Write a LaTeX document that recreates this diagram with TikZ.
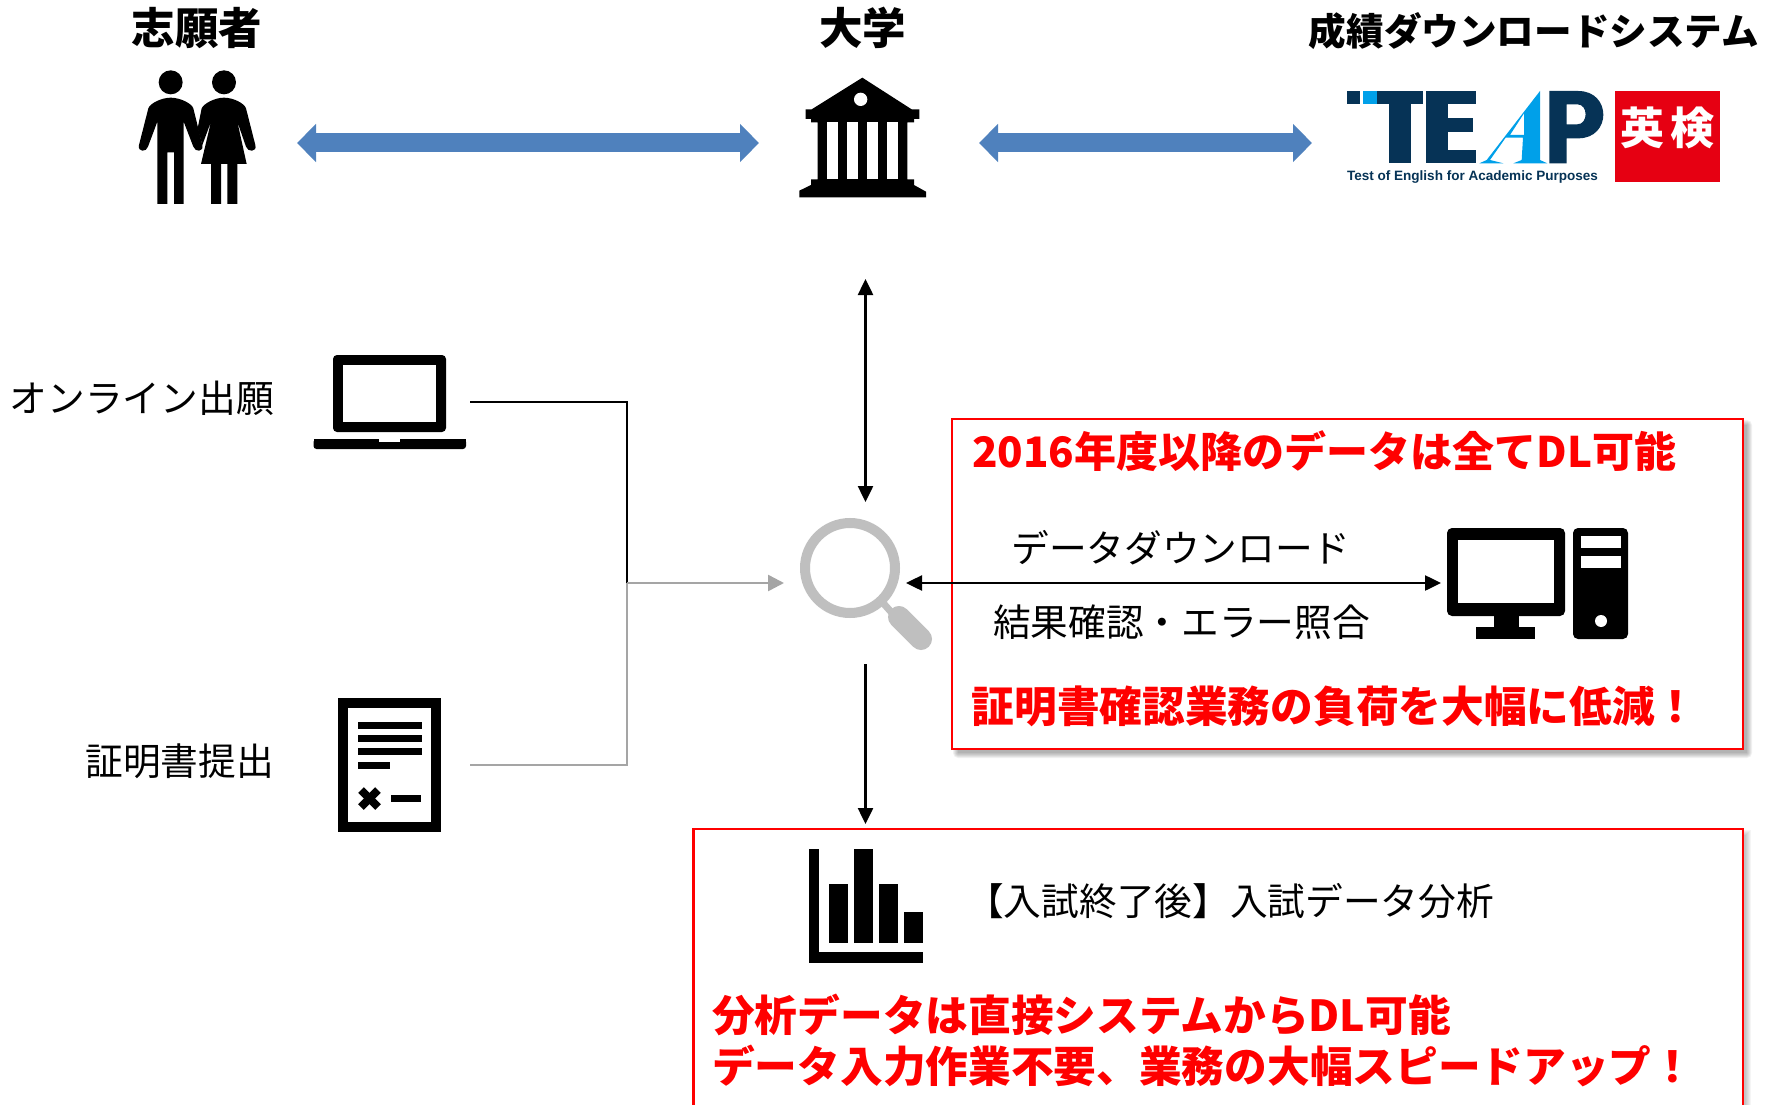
\documentclass[tikz,border=0pt]{standalone}
\usepackage{fontspec}
\usepackage{graphicx}
\usetikzlibrary{arrows.meta}
\setmainfont{Noto Sans CJK JP}
\newfontfamily\latinbold{Liberation Sans}
\definecolor{bluearrow}{HTML}{4F81BD}
\definecolor{navy}{HTML}{063356}
\definecolor{skyb}{HTML}{00A0E9}
\definecolor{eikenred}{HTML}{E60012}
\definecolor{greyicon}{HTML}{BFBFBF}
\definecolor{greyline}{HTML}{A5A5A5}
\definecolor{redtext}{HTML}{FF0000}
\tikzset{
  headtext/.style={inner sep=0pt,font=\fontsize{43.5}{47}\selectfont\bfseries},
  systext/.style={inner sep=0pt,font=\fontsize{37.6}{42}\selectfont\bfseries},
  plaintext/.style={inner sep=0pt,font=\fontsize{37.7}{42}\selectfont},
  redlabel/.style={inner sep=0pt,text=redtext,font=\fontsize{42.7}{46}\selectfont\bfseries},
  redfirst/.style={inner sep=0pt,text=redtext,font=\fontsize{42}{46}\selectfont\bfseries},
  bigarrow/.style={bluearrow,line width=19pt,{Triangle[length=19pt,width=37pt]}-{Triangle[length=19pt,width=37pt]}},
  blackarrow/.style={black,line width=2.5pt,-{Triangle[length=16pt,width=15pt]}},
  blackdouble/.style={black,line width=2.5pt,{Triangle[length=16pt,width=15pt]}-{Triangle[length=16pt,width=15pt]}},
  greyarrow/.style={greyline,line width=2.5pt,-{Triangle[length=16pt,width=16pt]}},
  redbox/.style={draw=redtext,line width=2.5pt,fill=white},
  zoomed/.style={x=1pt,y=-1pt,scale=1/3},
}
\begin{document}
\begin{tikzpicture}[x=1pt,y=-1pt]
\useasboundingbox (0,0) rectangle (1773,1105);
\clip (0,0) rectangle (1773,1105);
\fill[white] (0,0) rectangle (1773,1105);

% named ends
\coordinate (applicantR) at (297,143);
\coordinate (univL) at (759,143);
\coordinate (univR) at (979,143);
\coordinate (systemL) at (1312,143);
\coordinate (univS) at (865.5,279);
\coordinate (searchN) at (865.5,502);
\coordinate (searchS) at (865.5,664);
\coordinate (resultN) at (865.5,824);
\coordinate (searchE) at (906,583);
\coordinate (pcW) at (1441,583);
\coordinate (searchW) at (784,583);
\coordinate (laptopE) at (470,402);
\coordinate (docE) at (470,765);
\coordinate (joinA) at (627,402);
\coordinate (joinB) at (627,765);
\coordinate (joinC) at (627,583);

% shadows
\foreach \i in {0,...,5}{
  \fill[black,opacity=.055,rounded corners=\i pt] (958-\i,425-\i) rectangle (1747+\i,753+\i);
  \fill[black,opacity=.04] (1740,835-\i) rectangle (1746+\i,1105);
}
% red boxes
\draw[redbox] (952,419) rectangle (1743,749);
\draw[redbox] (693.5,829) rectangle (1743,1125);

% titles
\node[headtext] (tApplicant) at (197,28) {志願者};
\node[headtext] (tUniv) at (862.5,28) {大学};
\node[systext] (tSystem) at (1534,31) {成績ダウンロードシステム};

% blue arrows
\draw[bigarrow] (applicantR) -- (univL);
\draw[bigarrow] (univR) -- (systemL);

% people
\begin{scope}[shift={(130,65)},zoomed]
\fill (122,52) circle (36);
\fill (282,52) circle (36);
\fill (82,417) -- (112,417) -- (112,262) -- (132,262) -- (132,417) -- (161,417) -- (161,170) -- (190,245) .. controls (195,262) and (222,262) .. (217,240) -- (190,130) .. controls (185,115) and (150,98) .. (122,98) .. controls (95,98) and (60,115) .. (55,130) -- (27,240) .. controls (22,262) and (50,262) .. (54,245) -- (82,170) -- cycle;
\fill (243,417) -- (273,417) -- (273,297) -- (292,297) -- (292,417) -- (322,417) -- (322,297) -- (350,297) -- (322,170) -- (348,245) .. controls (353,262) and (382,262) .. (376,240) -- (348,130) .. controls (343,115) and (310,98) .. (282,98) .. controls (255,98) and (222,115) .. (215,130) -- (203,190) -- (217,240) -- (243,170) -- (213,297) -- (243,297) -- cycle;
\end{scope}

% university building
\begin{scope}[shift={(790,70)},zoomed]
\fill (217,23) -- (365,118) -- (388,118) -- (388,147) -- (372,147) -- (372,157) -- (352,157) -- (352,328) -- (372,328) -- (372,345) -- (408,365) -- (408,382) -- (28,382) -- (28,362) -- (63,345) -- (63,328) -- (83,328) -- (83,157) -- (63,157) -- (63,147) -- (47,147) -- (47,118) -- (65,118) -- cycle;
\fill[white] (212,88) circle (20);
\foreach \g in {112,172,232,292}{\fill[white] (\g,157) rectangle (\g+31,328);}
\end{scope}

% TEAP logo
\begin{scope}[shift={(1340,85)},zoomed]
\fill[navy] (22,18) rectangle (60,58);
\fill[skyb] (70,18) rectangle (110,58);
\fill[navy] (110,18) rectangle (250,58);
\fill[navy] (147,18) rectangle (213,235);
\fill[navy] (258,18) rectangle (408,58);
\fill[navy] (258,18) rectangle (325,235);
\fill[navy] (258,100) rectangle (400,140);
\fill[navy] (258,195) rectangle (408,235);
\fill[navy,even odd rule] (628,18) -- (715,18) .. controls (815,18) and (815,160) .. (715,160) -- (680,160) -- (680,235) -- (628,235) -- cycle
  (680,58) -- (680,118) -- (712,118) .. controls (745,118) and (745,58) .. (712,58) -- cycle;
\fill[skyb,even odd rule] (600,18) -- (600,225) -- (622,235) -- (520,235) -- (545,225) -- (549,158) -- (497,158) -- (450,225) -- (490,235) -- (418,235) -- (440,225) -- cycle
  (552,85) -- (510,150) -- (552,150) -- cycle;
\end{scope}
\node[inner sep=0pt,text=navy,font=\latinbold\bfseries] (tagline) at (1472.5,177) {\resizebox{251pt}{!}{Test of English for Academic Purposes}};

% Eiken
\node[fill=eikenred,inner sep=0pt,minimum width=105pt,minimum height=91pt,text=white,font=\fontsize{44}{48}\selectfont\bfseries] (eiken) at (1667.5,136.5) {\raisebox{21pt}{英\kern6pt 検}};

% left labels
\node[plaintext,anchor=east] (lOnline) at (274,398) {オンライン出願};
\node[plaintext,anchor=east] (lCert) at (274,761) {証明書提出};

% laptop
\fill[rounded corners=4pt] (333,432) -- (333,355) -- (446,355) -- (446,432) -- cycle;
\fill[white] (342.5,365) rectangle (436,422);
\fill[rounded corners=3pt] (313.5,439) -- (466,439) -- (466,449) -- (313.5,449) -- cycle;
\fill (313.5,439) rectangle (466,444);
\fill[white] (379,439) rectangle (400,442);

% certificate
\fill (338,698) rectangle (441,832);
\fill[white] (348,708) rectangle (431,822);
\foreach \yy in {722,735,748}{\fill (358,\yy) rectangle (422,\yy+7);}
\fill (358,762) rectangle (390,769);
\draw[line width=8pt] (361,790) -- (378,807);
\draw[line width=8pt] (378,790) -- (361,807);
\fill (391,795) rectangle (421,802);

% connectors left
\draw[greyline,line width=2.5pt,line join=miter] (docE) -- (joinB) -- (joinC);
\draw[black,line width=2.5pt,line join=miter] (laptopE) -- (joinA) -- (joinC);
\draw[greyarrow] (joinC) -- (searchW);

% magnifier
\draw[greyicon,line width=10pt] (850,568) circle (45);
\draw[greyicon,line width=7pt] (884,604) -- (900,622);
\draw[greyicon,line width=22pt,line cap=round] (899,617) -- (921,639);

% black arrows
\draw[blackdouble] (univS) -- (searchN);
\draw[blackarrow] (searchS) -- (resultN);
\draw[blackdouble] (searchE) -- (pcW);

% box 1 content
\node[redfirst,anchor=west] (r1) at (972,451) {2016年度以降のデータは全てDL可能};
\node[plaintext] (lDown) at (1181,548) {データダウンロード};
\node[plaintext] (lCheck) at (1181.5,622) {結果確認・エラー照合};
\node[redlabel,anchor=west] (r2) at (971.5,706) {証明書確認業務の負荷を大幅に低減！};

% computer
\fill[rounded corners=5pt] (1447,528) rectangle (1565,616);
\fill[white] (1458,540) rectangle (1554,603);
\fill (1494,614) rectangle (1518.5,628);
\fill (1476,627) rectangle (1535,639);
\fill[rounded corners=5pt] (1573,528) rectangle (1628,639);
\fill[white] (1580.5,536) rectangle (1621,548);
\fill[white] (1580.5,556) rectangle (1621,568);
\fill[white] (1601,621) ellipse (6 and 6);

% chart
\fill (809,849) rectangle (819,963);
\fill (809,952) rectangle (923,963);
\fill (829,884) rectangle (848,943);
\fill (854,849) rectangle (873,943);
\fill (879,884) rectangle (898,943);
\fill (904,912) rectangle (923,943);

% box 2 content
\node[plaintext,anchor=west] (lAnalysis) at (966,901) {【入試終了後】入試データ分析};
\node[redlabel,anchor=west] (r3) at (712,1015) {分析データは直接システムからDL可能};
\node[redlabel,anchor=west] (r4) at (712,1066) {データ入力作業不要、業務の大幅スピードアップ！};
\end{tikzpicture}
\end{document}
